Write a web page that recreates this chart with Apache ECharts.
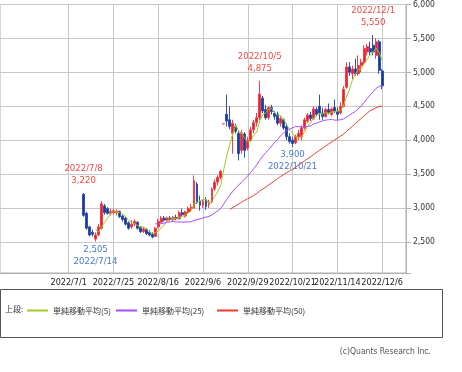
<!DOCTYPE html>
<html><head><meta charset="utf-8">
<script src="https://cdn.jsdelivr.net/npm/echarts@6/dist/echarts.min.js"></script>
<style>html,body{margin:0;padding:0;background:#fff}#c{width:462px;height:372px}</style>
</head><body><div id="c"></div>
<script>
// categories (trading days)
const padBefore = ['2022/5/31','2022/6/1','2022/6/2','2022/6/3','2022/6/6','2022/6/7','2022/6/8','2022/6/9','2022/6/10','2022/6/13','2022/6/14','2022/6/15','2022/6/16','2022/6/17','2022/6/20','2022/6/21','2022/6/22','2022/6/23','2022/6/24','2022/6/27','2022/6/28','2022/6/29','2022/6/30','2022/7/1','2022/7/4','2022/7/5','2022/7/6','2022/7/7'];
const tradeDates = ['2022/7/8','2022/7/11','2022/7/12','2022/7/13','2022/7/14','2022/7/15','2022/7/19','2022/7/20','2022/7/21','2022/7/22','2022/7/25','2022/7/26','2022/7/27','2022/7/28','2022/7/29',
'2022/8/1','2022/8/2','2022/8/3','2022/8/4','2022/8/5','2022/8/8','2022/8/9','2022/8/10','2022/8/12','2022/8/15','2022/8/16','2022/8/17','2022/8/18','2022/8/19','2022/8/22','2022/8/23','2022/8/24','2022/8/25','2022/8/26','2022/8/29','2022/8/30','2022/8/31',
'2022/9/1','2022/9/2','2022/9/5','2022/9/6','2022/9/7','2022/9/8','2022/9/9','2022/9/12','2022/9/13','2022/9/14','2022/9/15','2022/9/16','2022/9/20','2022/9/21','2022/9/22','2022/9/26','2022/9/27','2022/9/28','2022/9/29','2022/9/30',
'2022/10/3','2022/10/4','2022/10/5','2022/10/6','2022/10/7','2022/10/11','2022/10/12','2022/10/13','2022/10/14','2022/10/17','2022/10/18','2022/10/19','2022/10/20','2022/10/21','2022/10/24','2022/10/25','2022/10/26','2022/10/27','2022/10/28','2022/10/31',
'2022/11/1','2022/11/2','2022/11/4','2022/11/7','2022/11/8','2022/11/9','2022/11/10','2022/11/11','2022/11/14','2022/11/15','2022/11/16','2022/11/17','2022/11/18','2022/11/21','2022/11/22','2022/11/24','2022/11/25','2022/11/28','2022/11/29','2022/11/30',
'2022/12/1','2022/12/2','2022/12/5','2022/12/6'];
const padAfter = ['2022/12/7','2022/12/8','2022/12/9','2022/12/12','2022/12/13','2022/12/14','2022/12/15','2022/12/16'];
const tickLabels = ['2022/7/1','2022/7/25','2022/8/16','2022/9/6','2022/9/29','2022/10/21','2022/11/14','2022/12/6'];

// OHLC, one value per trade date
const open  = [3200,2920,2720,2640,2540,2600,2700,3030,2990,2920,2930,2930,2950,2880,2850,
2780,2720,2760,2790,2710,2650,2680,2640,2610,2580,2720,2790,2850,2820,2850,2830,2860,2840,2930,2880,2940,2990,
3000,3350,3100,3040,3120,3050,3090,3280,3380,3450,4240,4380,4300,4100,4200,4100,3850,4090,3880,4000,
4150,4260,4330,4620,4450,4330,4480,4400,4380,4250,4300,4200,4050,4000,3960,4050,4050,4180,4280,4370,
4320,4450,4500,4400,4350,4450,4380,4480,4430,4400,4500,4780,5080,4980,5050,4980,5100,5150,5300,5350,
5400,5250,5450,5020];
const high  = [3220,2940,2740,2680,2640,2760,3100,3060,3010,2990,2990,2980,2960,2900,2870,
2800,2820,2830,2800,2730,2720,2700,2670,2640,2720,2840,2880,2880,2870,2880,2880,2900,2960,2990,2960,3020,3060,
3480,3380,3180,3120,3160,3120,3300,3420,3480,3560,4240,4670,4500,4300,4240,4130,4150,4120,4050,4200,
4300,4400,4875,4650,4520,4500,4520,4430,4420,4350,4320,4250,4100,4050,4080,4150,4220,4330,4400,4420,
4500,4480,4670,4480,4480,4540,4480,4600,4480,4560,4800,5150,5150,5100,5200,5250,5200,5400,5420,5450,
5550,5500,5480,5050];
const low   = [2870,2680,2580,2580,2505,2590,2680,2900,2900,2890,2900,2890,2850,2800,2740,
2680,2690,2730,2680,2630,2630,2600,2580,2550,2570,2700,2780,2800,2800,2810,2800,2820,2830,2870,2860,2920,2950,
2990,3060,2960,3000,2970,3000,3070,3250,3330,3420,4240,4200,4160,3800,4100,3700,3800,3740,3850,3980,
4100,4200,4300,4400,4300,4300,4380,4300,4220,4200,4150,4000,3950,3900,3940,4000,4000,4150,4250,4280,
4300,4350,4300,4300,4330,4380,4350,4400,4300,4380,4480,4760,4950,4900,4950,4950,5000,5120,5250,5250,
5250,5200,4980,4750];
const close = [2890,2700,2600,2610,2600,2720,3060,2930,2920,2950,2960,2950,2870,2830,2760,
2700,2760,2800,2700,2650,2690,2620,2600,2570,2700,2800,2850,2820,2850,2830,2860,2840,2930,2900,2940,2990,3010,
3400,3080,3040,3100,3020,3080,3280,3380,3450,3540,4240,4280,4200,4250,4130,3800,4100,3850,4000,4150,
4260,4330,4680,4430,4330,4480,4420,4350,4250,4320,4180,4050,3980,3950,4050,4100,4180,4300,4370,4320,
4460,4380,4400,4350,4450,4400,4460,4430,4380,4500,4750,5080,5000,5050,4980,5100,5150,5350,5380,5300,
5300,5450,5030,4800];

// annotations
const annotDates  = ['2022/7/8','2022/7/14','2022/10/5','2022/10/21','2022/12/1'];
const annotValues = [3220,2505,4875,3900,5550];
const annotKinds  = ['high','low','high','low','high'];

const maPeriods = [5,25,50];
const maNames = ['単純移動平均(5)','単純移動平均(25)','単純移動平均(50)'];
const maColors = ['#9acd1e','#a64dff','#e8402e'];
const legendLefts = [27, 116, 217];

const categories = padBefore.concat(tradeDates, padAfter);
const nPre = padBefore.length, nPost = padAfter.length;
const candleData = [];
const closeFull = [];
for (let i = 0; i < nPre; i++) { candleData.push('-'); closeFull.push(null); }
for (let i = 0; i < tradeDates.length; i++) {
  candleData.push([open[i], close[i], low[i], high[i]]);
  closeFull.push(close[i]);
}
for (let i = 0; i < nPost; i++) { candleData.push('-'); closeFull.push(null); }

function sma(arr, n) {
  return arr.map((v, i) => {
    if (v == null) return '-';
    let s = 0;
    for (let k = 0; k < n; k++) { const x = arr[i - k]; if (x == null) return '-'; s += x; }
    return +(s / n).toFixed(1);
  });
}
const fmt = v => v.toLocaleString('en-US');
const SANS = "'Liberation Sans Narrow','DejaVu Sans Condensed','Liberation Sans',Arial,sans-serif";
const JP = "'Noto Sans CJK JP',sans-serif";

const markData = annotDates.map((d, i) => {
  const isHigh = annotKinds[i] === 'high';
  const col = isHigh ? '#ef4a42' : '#4a76cf';
  return {
    coord: [d, annotValues[i]],
    label: {
      show: true,
      position: isHigh ? 'top' : 'bottom',
      distance: isHigh ? 6 : 2,
      formatter: isHigh ? (d + '\n' + fmt(annotValues[i])) : (fmt(annotValues[i]) + '\n' + d),
      color: col, fontSize: 9.5, lineHeight: 12, fontFamily: SANS, align: 'center'
    }
  };
});

const chart = echarts.init(document.getElementById('c'), null, {renderer: 'canvas'});
const tickSet = new Set(tickLabels);
chart.setOption({
  animation: false,
  backgroundColor: '#fff',
  grid: {left: 0, right: 56, top: 2, bottom: 99, show: true, borderColor: '#b0b0b0', borderWidth: 1},
  xAxis: {
    type: 'category', data: categories, boundaryGap: false,
    axisLine: {show: true, lineStyle: {color: '#b0b0b0'}},
    axisTick: {show: false},
    axisLabel: {interval: (idx, val) => tickSet.has(val), color: '#222', fontSize: 9, fontFamily: SANS, margin: 5, hideOverlap: false},
    splitLine: {show: true, interval: (idx, val) => tickSet.has(val), lineStyle: {color: '#c8c8c8', width: 1}}
  },
  yAxis: {
    type: 'value', position: 'right', min: 2040, max: 6000, splitNumber: 8, minInterval: 500, maxInterval: 500,
    axisLine: {show: true, lineStyle: {color: '#b0b0b0'}},
    axisTick: {show: true, length: 5, lineStyle: {color: '#b0b0b0'}},
    axisLabel: {color: '#333', fontSize: 8.5, fontFamily: SANS, margin: 7, formatter: v => (v % 500 === 0 ? fmt(v) : '')},
    splitLine: {show: true, lineStyle: {color: '#c8c8c8', width: 1}}
  },
  legend: maNames.map((nm, k) => ({
    left: legendLefts[k], top: 305, padding: 0, icon: 'rect', itemWidth: 21, itemHeight: 2, itemGap: 0,
    data: [{name: nm, itemStyle: {color: maColors[k], opacity: 1}}],
    textStyle: {fontSize: 8, fontFamily: JP, color: '#333', lineHeight: 11}
  })),
  graphic: [
    {type: 'rect', shape: {x: 0.5, y: 289.5, width: 442, height: 48}, style: {fill: 'none', stroke: '#555', lineWidth: 1}},
    {type: 'text', left: 5, top: 305, style: {text: '上段:', font: "8px 'Noto Sans CJK JP'", fill: '#333'}},
    {type: 'text', right: 31, top: 347, style: {text: '(c)Quants Research Inc.', font: "8.5px 'Liberation Sans Narrow','DejaVu Sans Condensed','Liberation Sans',sans-serif", fill: '#555'}}
  ],
  series: [
    {
      type: 'candlestick', data: candleData, barMaxWidth: 2.4, barMinWidth: 2.4,
      itemStyle: {color: '#f01e28', color0: '#1a3a9a', borderColor: '#f2404a', borderColor0: '#2f50ad', borderWidth: 1},
      markPoint: {symbol: 'circle', symbolSize: 0, silent: true, data: markData}
    }
  ].concat(maPeriods.map((p, k) => ({
    type: 'line', name: maNames[k], legendIndex: k, data: sma(closeFull, p), showSymbol: false, symbol: 'none',
    color: maColors[k], lineStyle: {color: maColors[k], width: 1}, itemStyle: {color: maColors[k]}, z: 3
  })))
});
</script></body></html>
